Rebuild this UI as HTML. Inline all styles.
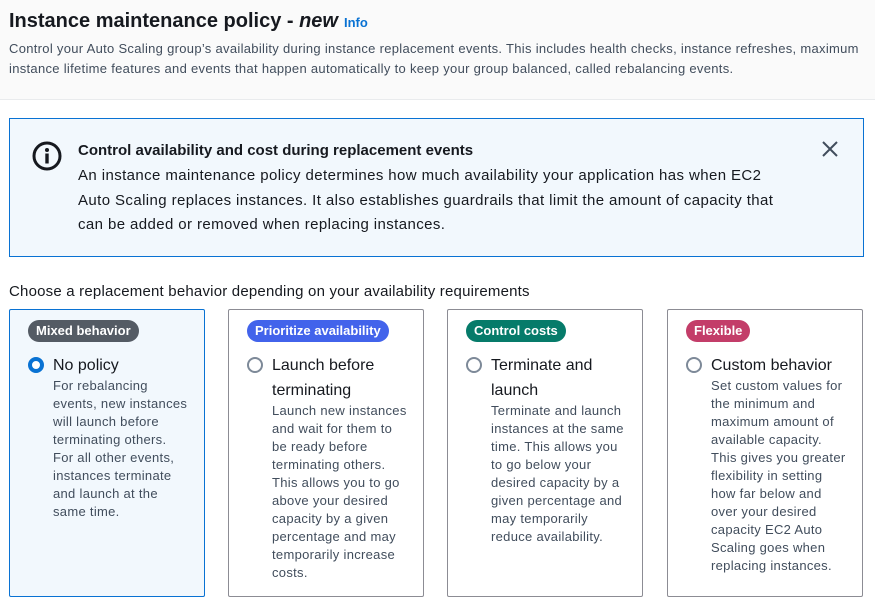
<!DOCTYPE html>
<html><head><meta charset="utf-8"><style>
*{box-sizing:border-box;margin:0;padding:0}
body{width:875px;height:613px;background:#fff;font-family:"Liberation Sans",sans-serif;color:#16191f;position:relative;overflow:hidden}
.hdr{position:absolute;left:0;top:0;width:875px;height:100px;background:#fafafa;border-bottom:1px solid #e9ebed}
.title{position:absolute;left:9px;top:10px;font-size:20px;font-weight:bold;color:#16191f}
.title i{font-style:italic}
.info{color:#0972d3;font-size:13px;font-weight:bold;margin-left:6px}
.desc{position:absolute;left:9px;top:39px;width:862px;font-size:13px;line-height:20px;color:#414d5c;letter-spacing:0.3px}
.alert{position:absolute;left:9px;top:118px;width:855px;height:139px;background:#f2f8fd;border:1px solid #0972d3}
.alert .ic{position:absolute;left:22px;top:22px}
.alert .at{position:absolute;left:68px;top:23px;font-size:15px;font-weight:bold}
.alert .ab{position:absolute;left:68px;top:45px;width:760px;white-space:nowrap;font-size:15px;line-height:24.5px;color:#16191f;letter-spacing:0.4px}
.alert .x{position:absolute;left:810px;top:20px}
.choose{position:absolute;left:9px;top:283px;font-size:15px;letter-spacing:0.2px}
.card{position:absolute;top:309px;width:196px;height:288px;border:1px solid #8c8c94;border-radius:2px;background:#fff}
.card.sel{background:#f2f8fd;border-color:#0972d3}
.badge{position:absolute;left:18px;top:10px;height:22px;line-height:22px;border-radius:11px;padding:0 8px;color:#fff;font-size:13px;font-weight:bold}
.radio{position:absolute;left:18px;top:47px;width:16px;height:16px;border-radius:50%;border:2px solid #7d8998;background:#fff}
.radio.on{border:4px solid #0972d3}
.lbl{position:absolute;left:43px;top:43px;width:140px;font-size:16px;line-height:25px}
.cd{font-size:13px;line-height:18px;color:#414d5c;width:138px;margin-top:-1px;letter-spacing:0.3px}
</style></head><body>
<div class="hdr">
<div class="title">Instance maintenance policy - <i>new</i><span class="info">Info</span></div>
<div class="desc">Control your Auto Scaling group’s availability during instance replacement events. This includes health checks, instance refreshes, maximum instance lifetime features and events that happen automatically to keep your group balanced, called rebalancing events.</div>
</div>
<div class="alert">
<svg class="ic" width="30" height="30" viewBox="0 0 30 30"><circle cx="15" cy="15" r="13" fill="none" stroke="#16191f" stroke-width="3"/><circle cx="15" cy="9" r="2" fill="#16191f"/><rect x="13.3" y="12.5" width="3.4" height="10" fill="#16191f"/></svg>
<div class="at">Control availability and cost during replacement events</div>
<div class="ab">An instance maintenance policy determines how much availability your application has when EC2<br>Auto Scaling replaces instances. It also establishes guardrails that limit the amount of capacity that<br>can be added or removed when replacing instances.</div>
<svg class="x" width="20" height="20" viewBox="0 0 20 20"><path d="M3 3L17 17M17 3L3 17" stroke="#414d5c" stroke-width="2"/></svg>
</div>
<div class="choose">Choose a replacement behavior depending on your availability requirements</div>

<div class="card sel" style="left:9px">
<div class="badge" style="background:#545b64">Mixed behavior</div>
<div class="radio on"></div>
<div class="lbl">No policy
<div class="cd">For rebalancing events, new instances will launch before terminating others.<br>For all other events, instances terminate and launch at the same time.</div></div>
</div>
<div class="card" style="left:228px">
<div class="badge" style="background:#4263eb">Prioritize availability</div>
<div class="radio"></div>
<div class="lbl">Launch before terminating
<div class="cd">Launch new instances and wait for them to be ready before terminating others. This allows you to go above your desired capacity by a given percentage and may temporarily increase costs.</div></div>
</div>
<div class="card" style="left:447px">
<div class="badge" style="background:#067b6a">Control costs</div>
<div class="radio"></div>
<div class="lbl">Terminate and launch
<div class="cd">Terminate and launch instances at the same time. This allows you to go below your desired capacity by a given percentage and may temporarily reduce availability.</div></div>
</div>
<div class="card" style="left:667px">
<div class="badge" style="background:#c33d69">Flexible</div>
<div class="radio"></div>
<div class="lbl">Custom behavior
<div class="cd">Set custom values for the minimum and maximum amount of available capacity. This gives you greater flexibility in setting how far below and over your desired capacity EC2 Auto Scaling goes when replacing instances.</div></div>
</div>
</body></html>
